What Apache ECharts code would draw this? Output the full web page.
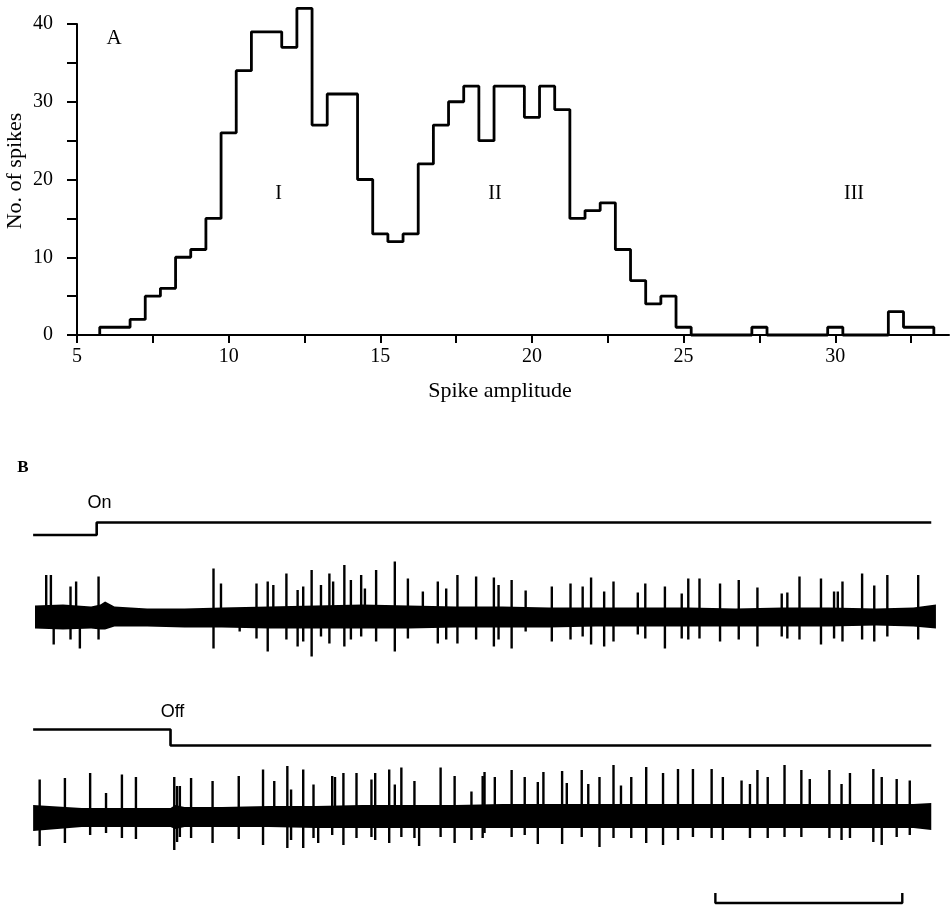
<!DOCTYPE html>
<html><head><meta charset="utf-8">
<script src="https://cdn.jsdelivr.net/npm/echarts@6/dist/echarts.min.js"></script>
<style>html,body{margin:0;padding:0;background:#fff}#c{width:950px;height:909px}</style>
</head><body><div id="c"></div>
<script>
// ---------- Panel A: spike amplitude histogram ----------
const binCenters = [6,6.5,7,7.5,8,8.5,9,9.5,10,10.5,11,11.5,12,12.5,13,13.5,14,14.5,15,15.5,16,16.5,17,17.5,18,18.5,19,19.5,20,20.5,21,21.5,22,22.5,23,23.5,24,24.5,25,25.5,26,26.5,27,27.5,28,28.5,29,29.5,30,30.5,31,31.5,32,32.5,33];
const spikeCounts = [1,1,2,5,6,10,11,15,26,34,39,39,37,42,27,31,31,20,13,12,13,22,27,30,32,25,32,32,28,32,29,15,16,17,11,7,4,5,1,0,0,0,0,1,0,0,0,0,1,0,0,0,3,1,1];
const binWidth = 0.5;
const xTickValues = [5,7.5,10,12.5,15,17.5,20,22.5,25,27.5,30,32.5];
const xLabelValues = [5,10,15,20,25,30];
const yLabelValues = [0,10,20,30,40];
const clusterLabels = ['I','II','III'];

// ---------- Panel B: recordings (time in s, amplitude in arbitrary units) ----------
const stim1Times = [-0.02, 0.66, 9.59];
const stim1Levels = [0, 1, 1];
const stim2Times = [-0.02, 1.45, 9.59];
const stim2Levels = [1, 0, 0];

const trace1SpikeTimes = [0.12,0.17,0.20,0.38,0.44,0.48,0.68,1.91,1.99,2.19,2.37,2.49,2.55,2.69,2.81,2.87,2.96,3.06,3.15,3.19,3.31,3.38,3.49,3.53,3.65,3.85,3.99,4.15,4.31,4.40,4.52,4.72,4.91,4.96,5.10,5.25,5.53,5.73,5.86,5.95,6.09,6.19,6.45,6.53,6.74,6.92,6.99,7.11,7.33,7.53,7.73,7.99,8.05,8.18,8.41,8.55,8.59,8.64,8.85,8.98,9.12,9.45];
const trace1SpikeUp = [41.5,41.5,0,30,35,0,40,48,33,0,33,35,31.5,43,26.5,30,46.5,31.5,43,35,51.5,36.5,41.5,28,46.5,55,38,25,35,28,41.5,40,39,31.5,36.5,26,30,33,30,39,25,35,24,33,30,23,38,38,33,36.5,29,23,24,40,38,25,25,35,43,31,41.5,41.5];
const trace1SpikeDown = [0,0,-28,-23,0,-32,-23,-32,0,-15,-22,-35,0,-23,-30,-25,-40,-20,-27,0,-30,-23,-20,0,-25,-35,-22,0,-27,-23,-27,-23,-30,-23,-32,-15,-25,-23,-20,-28,-30,-25,-18,-22,-32,-22,-23,-22,-25,-23,-30,-20,-22,-23,-28,-22,0,-25,-23,-25,-20,-23];
const trace1BandTimes = [0.0,0.3,0.6,0.7,0.75,0.85,1.2,1.6,2.0,2.5,3.0,3.5,4.0,4.5,5.0,5.5,6.0,6.5,7.0,7.5,8.0,8.5,9.0,9.4,9.64];
const trace1BandTop = [11,12,10,12,15,10,8,8,9,10,11,12,11,10,10,9,9,9,9,8,9,9,8,9,12];
const trace1BandBottom = [-12,-13,-12,-13,-13,-10,-10,-11,-11,-12,-12,-12,-12,-11,-11,-11,-10,-10,-10,-10,-10,-10,-9,-10,-12];

const trace2SpikeTimes = [0.05,0.32,0.59,0.76,0.93,1.08,1.49,1.52,1.55,1.67,1.90,2.18,2.44,2.56,2.70,2.74,2.87,2.98,3.03,3.18,3.21,3.30,3.44,3.60,3.64,3.79,3.85,3.92,4.06,4.11,4.34,4.49,4.67,4.79,4.81,4.92,5.10,5.24,5.38,5.44,5.64,5.69,5.85,5.92,6.04,6.19,6.27,6.38,6.54,6.72,6.88,7.04,7.24,7.36,7.56,7.65,7.73,7.84,8.02,8.20,8.29,8.50,8.63,8.72,8.97,9.06,9.22,9.36];
const trace2SpikeUp = [37.5,39,44,24,42.5,40,40,31,31,39,36,41,47.5,36,51,27.5,47.5,32.5,0,41,40,44,44,37.5,44,47.5,32.5,49.5,36,0,49.5,41,25.5,41,45,40,47,40,35,45,46,34,47,33,40,52,31.5,40,50,44,48,48,48,40,36.5,33,47,40,52,47,38,47,33,44,48,40,38,36.5];
const trace2SpikeDown = [-29,-26,-18,-16,-21,-22,-33,-25,-20,-21,-26,-22,-28,0,-31,-23,-31,-21,-26,-18,0,-28,-21,-20,-23,-26,0,-20,-21,-29,-20,-26,-23,-21,-16,0,-20,-18,-27,0,-27,0,-20,0,-30,-21,0,-21,-26,-28,-23,-20,-21,-23,0,-21,0,-21,-20,-20,0,-21,-23,-21,-25,-28,-20,-18];
const trace2BandTimes = [-0.02,0.5,1.0,1.45,1.5,1.6,2.0,2.5,3.0,3.5,4.0,4.5,5.0,5.5,6.0,6.5,7.0,7.5,8.0,8.5,9.0,9.4,9.59];
const trace2BandTop = [12,9,9,9,12,10,10,11,11,12,12,12,13,13,13,13,13,13,13,13,13,13,14];
const trace2BandBottom = [-14,-10,-10,-10,-12,-10,-10,-10,-11,-11,-11,-11,-11,-11,-11,-11,-11,-11,-11,-11,-11,-11,-13];

const scaleBarStart = 7.28;
const scaleBarLength = 2; // s

// ---------- build ----------
const SERIF = 'Liberation Serif, Times New Roman, serif';
const SANS = 'Liberation Sans, Arial, sans-serif';

const histData = [[binCenters[0] - binWidth/2, 0]];
binCenters.forEach((c, i) => histData.push([c - binWidth/2, spikeCounts[i]]));
histData.push([binCenters[binCenters.length-1] + binWidth/2, 0]);

function zip3(a, b, c) { return a.map((v, i) => [v, b[i], c[i]]); }

function spikeRender(params, api) {
  const t = api.value(0), up = api.value(1), dn = api.value(2);
  const p1 = api.coord([t, up]), p2 = api.coord([t, dn]);
  return { type: 'line', shape: { x1: p1[0], y1: p1[1], x2: p2[0], y2: p2[1] },
           style: { stroke: '#000', lineWidth: 2.4 } };
}
function bandRender(times, top, bot) {
  return function (params, api) {
    if (params.dataIndex !== 0) return null;
    const pts = [];
    for (let i = 0; i < times.length; i++) pts.push(api.coord([times[i], top[i]]));
    for (let i = times.length - 1; i >= 0; i--) pts.push(api.coord([times[i], bot[i]]));
    return { type: 'polygon', shape: { points: pts }, style: { fill: '#000' } };
  };
}

const bLeft = 35, bWidth = 900, tMax = 9.63;
const grids = [
  { left: 77, top: 24, width: 872, height: 311 },          // 0 histogram
  { left: bLeft, top: 522.5, width: bWidth, height: 12.5 }, // 1 stim 1
  { left: bLeft, top: 556.5, width: bWidth, height: 120 },  // 2 trace 1
  { left: bLeft, top: 729.5, width: bWidth, height: 16 },   // 3 stim 2
  { left: bLeft, top: 757, width: bWidth, height: 120 },    // 4 trace 2
  { left: bLeft, top: 893, width: bWidth, height: 10 }      // 5 scale bar
].map(g => Object.assign({ containLabel: false, outerBoundsMode: 'none' }, g));

const hiddenX = i => ({ gridIndex: i, type: 'value', min: 0, max: tMax, show: false });
const hiddenY = (i, mn, mx) => ({ gridIndex: i, type: 'value', min: mn, max: mx, show: false });

const xAxes = [
  { gridIndex: 0, type: 'value', min: 5, max: 33.75, interval: 2.5,
    axisLine: { lineStyle: { color: '#000', width: 2 } },
    axisTick: { length: 8, customValues: xTickValues, lineStyle: { color: '#000', width: 2 } },
    axisLabel: { customValues: xLabelValues, margin: 12, color: '#000', fontFamily: SERIF, fontSize: 20 },
    splitLine: { show: false } },
  hiddenX(1), hiddenX(2), hiddenX(3), hiddenX(4), hiddenX(5)
];
const yAxes = [
  { gridIndex: 0, type: 'value', min: 0, max: 40, interval: 5,
    axisLine: { show: true, lineStyle: { color: '#000', width: 2 } },
    axisTick: { show: true, length: 10, lineStyle: { color: '#000', width: 2 } },
    axisLabel: { margin: 24, color: '#000', fontFamily: SERIF, fontSize: 20,
                 formatter: v => (yLabelValues.indexOf(v) >= 0 ? String(v) : '') },
    splitLine: { show: false } },
  hiddenY(1, 0, 1), hiddenY(2, -60, 60), hiddenY(3, 0, 1), hiddenY(4, -60, 60), hiddenY(5, 0, 1)
];

const lineBase = { type: 'line', showSymbol: false, symbol: 'none', clip: false, silent: true, animation: false };

const series = [
  Object.assign({}, lineBase, { xAxisIndex: 0, yAxisIndex: 0, step: 'end', data: histData,
    lineStyle: { color: '#000', width: 2.8 } }),
  Object.assign({}, lineBase, { xAxisIndex: 1, yAxisIndex: 1, step: 'end',
    data: stim1Times.map((t, i) => [t, stim1Levels[i]]), lineStyle: { color: '#000', width: 2.6 } }),
  Object.assign({}, lineBase, { xAxisIndex: 3, yAxisIndex: 3, step: 'end',
    data: stim2Times.map((t, i) => [t, stim2Levels[i]]), lineStyle: { color: '#000', width: 2.6 } }),
  { type: 'custom', xAxisIndex: 2, yAxisIndex: 2, renderItem: bandRender(trace1BandTimes, trace1BandTop, trace1BandBottom),
    data: zip3(trace1BandTimes, trace1BandTop, trace1BandBottom), silent: true, animation: false },
  { type: 'custom', xAxisIndex: 2, yAxisIndex: 2, renderItem: spikeRender,
    data: zip3(trace1SpikeTimes, trace1SpikeUp, trace1SpikeDown), silent: true, animation: false },
  { type: 'custom', xAxisIndex: 4, yAxisIndex: 4, renderItem: bandRender(trace2BandTimes, trace2BandTop, trace2BandBottom),
    data: zip3(trace2BandTimes, trace2BandTop, trace2BandBottom), silent: true, animation: false },
  { type: 'custom', xAxisIndex: 4, yAxisIndex: 4, renderItem: spikeRender,
    data: zip3(trace2SpikeTimes, trace2SpikeUp, trace2SpikeDown), silent: true, animation: false },
  Object.assign({}, lineBase, { xAxisIndex: 5, yAxisIndex: 5,
    data: [[scaleBarStart, 1], [scaleBarStart, 0], [scaleBarStart + scaleBarLength, 0], [scaleBarStart + scaleBarLength, 1]],
    lineStyle: { color: '#000', width: 2.4 } })
];

const txt = (text, x, y, font, size, extra) => Object.assign({
  type: 'text', x: x, y: y, silent: true,
  style: { text: text, fontFamily: font, fontSize: size, fill: '#000', align: 'center', verticalAlign: 'middle' }
}, extra || {});

const graphic = [
  txt('A', 114, 38, SERIF, 21),
  txt(clusterLabels[0], 278.5, 194, SERIF, 20),
  txt(clusterLabels[1], 495, 194, SERIF, 20),
  txt(clusterLabels[2], 854, 194, SERIF, 20),
  txt('No. of spikes', 15, 171, SERIF, 22, { rotation: Math.PI / 2 }),
  txt('Spike amplitude', 500, 391, SERIF, 22),
  txt('B', 23, 468, SERIF, 17),
  txt('On', 99.5, 503.5, SANS, 18),
  txt('Off', 172.5, 712.5, SANS, 18)
];
graphic[6].style.fontWeight = 'bold';

const chart = echarts.init(document.getElementById('c'), null, { renderer: 'canvas' });
chart.setOption({ animation: false, backgroundColor: '#fff', grid: grids, xAxis: xAxes, yAxis: yAxes, series: series, graphic: graphic });
</script></body></html>
